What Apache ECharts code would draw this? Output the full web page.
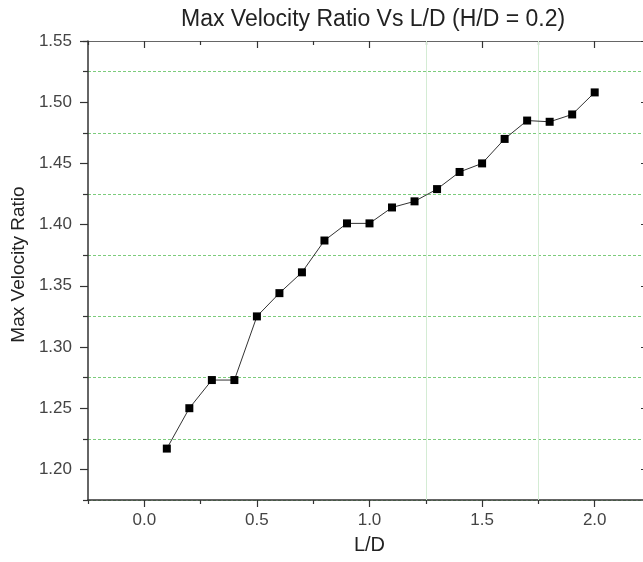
<!DOCTYPE html>
<html><head><meta charset="utf-8">
<script src="https://cdn.jsdelivr.net/npm/echarts@6/dist/echarts.min.js"></script>
<style>html,body{margin:0;padding:0;background:#fff}#c{width:643px;height:562px}</style>
</head><body><div id="c"></div>
<script>
const ldValues = [0.1, 0.2, 0.3, 0.4, 0.5, 0.6, 0.7, 0.8, 0.9, 1.0, 1.1, 1.2, 1.3, 1.4, 1.5, 1.6, 1.7, 1.8, 1.9, 2.0];
const velocityRatio = [1.217, 1.250, 1.273, 1.273, 1.325, 1.344, 1.361, 1.387, 1.401, 1.401, 1.414, 1.419, 1.429, 1.443, 1.450, 1.470, 1.485, 1.484, 1.490, 1.508];
const xTickValues = [0, 0.5, 1.0, 1.5, 2.0];
const yTickValues = [1.20, 1.25, 1.30, 1.35, 1.40, 1.45, 1.50, 1.55];
const xGridValues = [1.25, 1.75];

const X_MIN = -0.25, X_MAX = 2.25, Y_MIN = 1.175, Y_MAX = 1.55;
const FONT = 'Liberation Sans, Arial, sans-serif';
const chart = echarts.init(document.getElementById('c'), null, {renderer: 'canvas'});
const axisBase = {type: 'value', min: X_MIN, max: X_MAX, splitLine: {show: false}};
const yBase = {type: 'value', min: Y_MIN, max: Y_MAX, splitLine: {show: false}};
chart.setOption({
  animation: false,
  backgroundColor: '#fff',
  title: {
    text: 'Max Velocity Ratio Vs L/D (H/D = 0.2)',
    left: 176, top: 3,
    textStyle: {fontFamily: FONT, fontSize: 23, fontWeight: 'normal', color: '#222'}
  },
  grid: {left: 88, top: 41, width: 563, height: 459, containLabel: false, outerBoundsMode: 'none'},
  xAxis: [
    Object.assign({}, axisBase, {
      position: 'bottom',
      name: 'L/D', nameLocation: 'middle', nameGap: 35,
      nameTextStyle: {fontFamily: FONT, fontSize: 20, color: '#222'},
      axisLine: {show: true, onZero: false, lineStyle: {color: '#333', width: 1.5}},
      axisTick: {show: true, inside: false, length: 7, customValues: xTickValues, lineStyle: {color: '#333', width: 1.2}},
      axisLabel: {show: true, customValues: xTickValues, margin: 12, fontFamily: FONT, fontSize: 17, color: '#444',
        formatter: v => v.toFixed(1)}
    }),
    Object.assign({}, axisBase, {
      position: 'bottom', interval: 0.5,
      axisLine: {show: false, onZero: false},
      axisTick: {show: true, inside: false, length: 4, lineStyle: {color: '#333', width: 1.2}},
      axisLabel: {show: false}
    }),
    Object.assign({}, axisBase, {
      position: 'top',
      axisLine: {show: true, onZero: false, lineStyle: {color: '#666', width: 1.2}},
      axisTick: {show: true, inside: true, length: 7, customValues: xTickValues, lineStyle: {color: '#333', width: 1.2}},
      axisLabel: {show: false}
    }),
    Object.assign({}, axisBase, {
      position: 'top', interval: 0.5,
      axisLine: {show: false, onZero: false},
      axisTick: {show: true, inside: true, length: 4, lineStyle: {color: '#333', width: 1.2}},
      axisLabel: {show: false}
    })
  ],
  yAxis: [
    Object.assign({}, yBase, {
      position: 'left',
      name: 'Max Velocity Ratio', nameLocation: 'middle', nameGap: 56, nameRotate: 90,
      nameTextStyle: {fontFamily: FONT, fontSize: 19, color: '#222', padding: [0, 0, 0, 12]},
      axisLine: {show: true, onZero: false, lineStyle: {color: '#333', width: 1.5}},
      axisTick: {show: true, inside: false, length: 8, customValues: yTickValues, lineStyle: {color: '#333', width: 1.2}},
      axisLabel: {show: true, customValues: yTickValues, margin: 16, fontFamily: FONT, fontSize: 17, color: '#444',
        formatter: v => v.toFixed(2)}
    }),
    Object.assign({}, yBase, {
      position: 'left', interval: 0.05,
      axisLine: {show: false, onZero: false},
      axisTick: {show: true, inside: false, length: 5, lineStyle: {color: '#333', width: 1.2}},
      axisLabel: {show: false},
      splitLine: {show: true, lineStyle: {color: '#7ccc7c', width: 1, type: [3, 2]}}
    }),
    Object.assign({}, yBase, {
      position: 'right',
      axisLine: {show: true, onZero: false, lineStyle: {color: '#333', width: 1.5}},
      axisTick: {show: true, inside: true, length: 10, customValues: yTickValues, lineStyle: {color: '#333', width: 1.2}},
      axisLabel: {show: false}
    })
  ],
  series: [{
    type: 'line',
    xAxisIndex: 0, yAxisIndex: 0,
    data: ldValues.map((x, i) => [x, velocityRatio[i]]),
    symbol: 'rect', symbolSize: 8,
    itemStyle: {color: '#000'},
    lineStyle: {color: '#333', width: 1},
    markLine: {
      silent: true, symbol: 'none', label: {show: false},
      lineStyle: {color: '#d4ecd4', width: 1, type: 'solid'},
      data: xGridValues.map(v => ({xAxis: v}))
    },
    z: 5
  }]
});
</script></body></html>
